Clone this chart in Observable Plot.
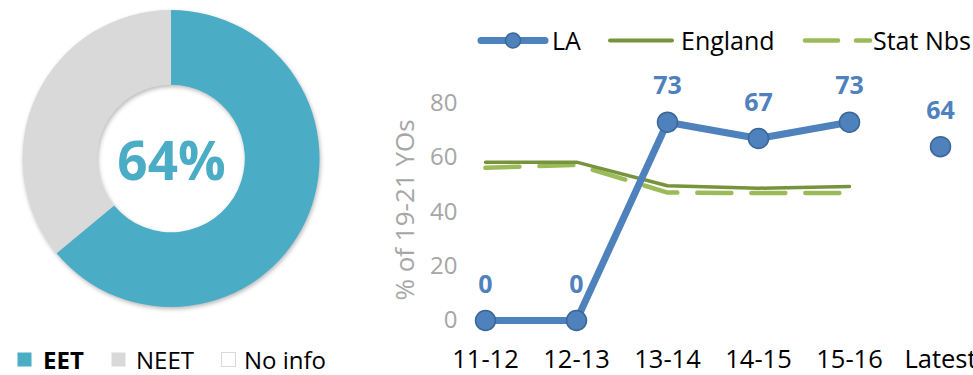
<!DOCTYPE html>
<html><head><meta charset="utf-8">
<script src="https://cdn.jsdelivr.net/npm/d3@7"></script>
<script src="https://cdn.jsdelivr.net/npm/@observablehq/plot@0.6"></script>
<style>
html,body{margin:0;padding:0;background:#fff;overflow:hidden;}
#root{position:relative;width:973px;height:375px;overflow:hidden;font-family:"Open Sans",sans-serif;}
#root > *{position:absolute;left:0;top:0;}
</style></head><body><div id="root"></div>
<script>
// ---- data ----
const periods = ["11-12","12-13","13-14","14-15","15-16","Latest"];
const laValues = [0, 0, 73, 67, 73, 64];
const englandValues = [58.3, 58.3, 49.6, 48.7, 49.3];
const statNbsValues = [56.2, 57.3, 47.1, 46.9, 46.9];
const yTicks = [0, 20, 40, 60, 80];
const yLabel = "% of 19-21 YOs";
const seriesNames = ["LA", "England", "Stat Nbs"];
const donutCategories = ["EET", "NEET", "No info"];
const donutValues = [64, 36, 0];

// ---- styles ----
const FONT = '"Open Sans", sans-serif';
const BLUE = "#4F81BD", BLUE_DARK = "#3A6796";
const ENG = "#77933C", STAT = "#9BBB59";
const donutColors = ["#4BACC6", "#D9D9D9", "#FFFFFF"];
const root = document.getElementById("root");

// ---- line chart ----
const la = periods.map((p, i) => ({period: p, value: laValues[i]}));
const laLine = la.filter(d => d.period !== "Latest");
const eng = englandValues.map((v, i) => ({period: periods[i], value: v}));
const stat = statNbsValues.map((v, i) => ({period: periods[i], value: v}));

const lineChart = Plot.plot({
  width: 973, height: 375,
  marginLeft: 466, marginRight: 0, marginTop: 80, marginBottom: 36,
  style: {fontFamily: FONT, background: "transparent", overflow: "visible"},
  x: {type: "point", domain: periods, range: [484.3, 941], padding: 0},
  y: {domain: [0, 80], range: [320, 102.7]},
  marks: [
    Plot.axisX({tickSize: 0, tickPadding: 10, fontSize: 25.5, fill: "#000", label: null}),
    Plot.axisY({ticks: yTicks, tickSize: 0, tickPadding: 9, fontSize: 24, fill: "#A6A6A6", label: null}),
    Plot.text([yLabel], {frameAnchor: "left", textAnchor: "middle", lineAnchor: "middle",
      rotate: -90, dx: -61, fontSize: 26, fill: "#A6A6A6", text: d => d}),
    Plot.line(stat, {x: "period", y: "value", stroke: STAT, strokeWidth: 4.5,
      strokeDasharray: "34,20", strokeLinecap: "round"}),
    Plot.line(eng, {x: "period", y: "value", stroke: ENG, strokeWidth: 3.5, strokeLinecap: "round"}),
    Plot.line(laLine, {x: "period", y: "value", stroke: BLUE, strokeWidth: 7, strokeLinejoin: "round"}),
    Plot.dot(la, {x: "period", y: "value", r: 10, fill: BLUE, stroke: BLUE_DARK, strokeWidth: 1.5}),
    Plot.text(la, {x: "period", y: "value", text: d => String(d.value), dy: -36,
      fontSize: 25, fontWeight: "bold", fill: BLUE})
  ]
});
root.appendChild(lineChart);

// ---- donut ----
const donutData = donutCategories.map((c, i) => ({cat: c, value: donutValues[i], color: donutColors[i]}));
const arcs = d3.pie().sort(null).value(d => d.value)(donutData);
const donut = Plot.plot({
  width: 340, height: 330, margin: 0,
  style: {fontFamily: FONT, background: "transparent", overflow: "visible"},
  x: {domain: [-1, 1], range: [22.5, 319.5], axis: null},
  y: {domain: [-1, 1], range: [307, 10], axis: null},
  marks: [
    (index, scales) => {
      const cx = scales.x(0), cy = scales.y(0), r = scales.x(1) - cx;
      const arc = d3.arc().innerRadius(r * 0.497).outerRadius(r);
      const g = d3.create("svg:g")
        .attr("transform", `translate(${cx},${cy})`)
        .style("filter", "drop-shadow(1px 2px 2px rgba(0,0,0,0.28))");
      g.selectAll("path").data(arcs.filter(a => a.value > 0)).join("path")
        .attr("d", arc).attr("fill", a => a.data.color);
      return g.node();
    },
    Plot.text([donutValues[0]], {x: () => 0, y: () => 0, text: d => `${d}%`, dy: 4,
      fontSize: 53, fontWeight: "bold", fill: donutColors[0]})
  ]
});
root.appendChild(donut);

// ---- legends ----
const leg = d3.create("svg").attr("width", 973).attr("height", 375)
  .style("font-family", FONT).style("overflow", "visible");
// top legend (line chart)
const tl = leg.append("g");
tl.append("line").attr("x1", 481).attr("x2", 545).attr("y1", 40.5).attr("y2", 40.5)
  .attr("stroke", BLUE).attr("stroke-width", 7).attr("stroke-linecap", "round");
tl.append("circle").attr("cx", 513).attr("cy", 40.5).attr("r", 7.5)
  .attr("fill", BLUE).attr("stroke", BLUE_DARK).attr("stroke-width", 1.5);
tl.append("text").attr("x", 552).attr("y", 50).attr("font-size", 25).text(seriesNames[0]);
tl.append("line").attr("x1", 610).attr("x2", 672).attr("y1", 40.5).attr("y2", 40.5)
  .attr("stroke", ENG).attr("stroke-width", 4).attr("stroke-linecap", "round");
tl.append("text").attr("x", 681).attr("y", 50).attr("font-size", 25).text(seriesNames[1]);
tl.append("line").attr("x1", 805).attr("x2", 870).attr("y1", 40.5).attr("y2", 40.5)
  .attr("stroke", STAT).attr("stroke-width", 4.5).attr("stroke-linecap", "round")
  .attr("stroke-dasharray", "33,18");
tl.append("text").attr("x", 873).attr("y", 50).attr("font-size", 25).text(seriesNames[2]);
// bottom-left legend (donut)
const bl = leg.append("g");
const legX = [[17, 43], [111, 136], [221, 244]];
donutCategories.forEach((c, i) => {
  bl.append("rect").attr("x", legX[i][0] + 0.5).attr("y", 352.5).attr("width", 14).attr("height", 14)
    .attr("fill", donutColors[i]).attr("stroke", i === 2 ? "#D9D9D9" : "none");
  bl.append("text").attr("x", legX[i][1]).attr("y", 369).attr("font-size", 24)
    .attr("font-weight", i === 0 ? "bold" : "normal").attr("fill", "#000").text(c);
});
root.appendChild(leg.node());
</script>
</body></html>
